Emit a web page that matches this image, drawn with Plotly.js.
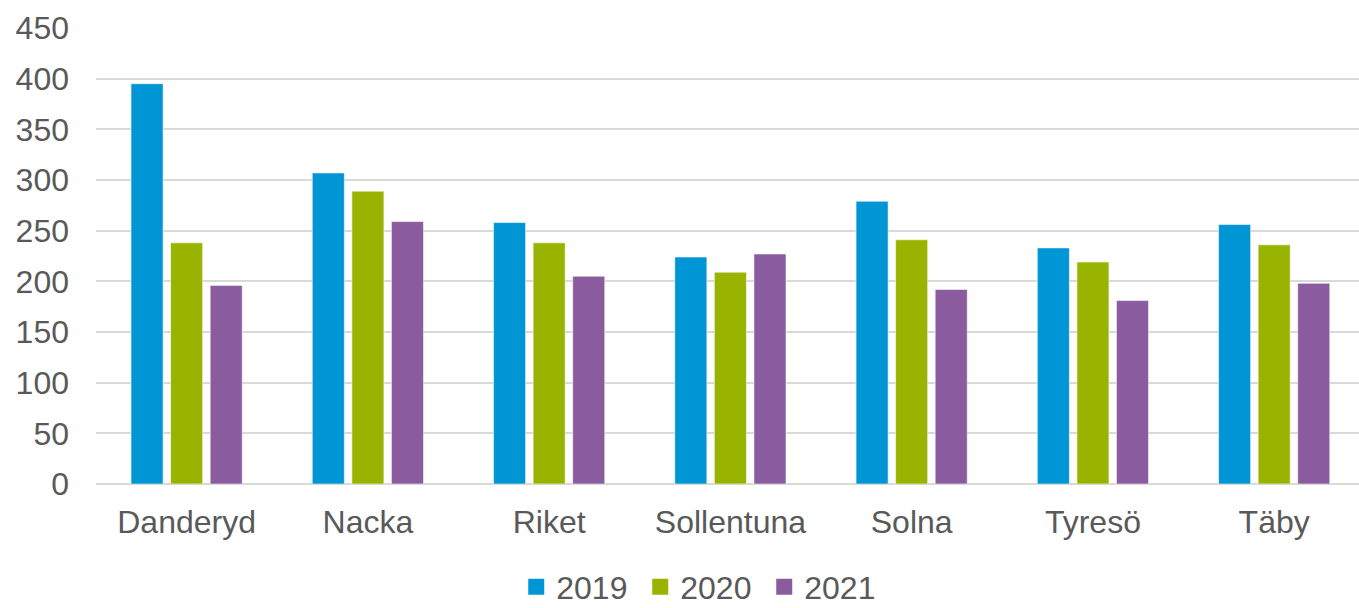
<!DOCTYPE html>
<html>
<head>
<meta charset="utf-8">
<script src="https://cdn.plot.ly/plotly-3.0.1.min.js"></script>
<style>
html, body { margin: 0; padding: 0; background: #ffffff; overflow: hidden; }
#chart { width: 1359px; height: 608px; }
</style>
</head>
<body>
<div id="chart"></div>
<script>
const categories = ["Danderyd", "Nacka", "Riket", "Sollentuna", "Solna", "Tyresö", "Täby"];
const seriesNames = ["2019", "2020", "2021"];
const values2019 = [395, 307, 258, 224, 279, 233, 256];
const values2020 = [238, 289, 238, 209, 241, 219, 236];
const values2021 = [196, 259, 205, 227, 192, 181, 198];
const yTickValues = [0, 50, 100, 150, 200, 250, 300, 350, 400, 450];

const colors = ["#0096D6", "#99B400", "#8B5BA0"];
const allValues = [values2019, values2020, values2021];

const textColor = "#595959";
const fontFamily = "'Liberation Sans', Arial, sans-serif";

const barTraces = allValues.map((vals, i) => ({
  type: "bar",
  name: seriesNames[i],
  x: categories,
  y: vals,
  showlegend: false,
  legendgroup: seriesNames[i],
  marker: { color: colors[i], line: { color: "rgba(255,255,255,0.55)", width: 1 } },
  hoverinfo: "x+y+name"
}));

// legend-only entries (square swatches like the original)
const legendTraces = seriesNames.map((name, i) => ({
  type: "scatter",
  mode: "markers",
  name: name,
  x: [null],
  y: [null],
  legendgroup: name,
  showlegend: true,
  hoverinfo: "skip",
  marker: { symbol: "square", size: 16, color: colors[i] }
}));

const layout = {
  width: 1359,
  height: 608,
  margin: { l: 96, r: 0, t: 28, b: 124, pad: 0, autoexpand: false },
  paper_bgcolor: "#ffffff",
  plot_bgcolor: "#ffffff",
  font: { family: fontFamily, color: textColor, size: 32 },
  barmode: "group",
  bargap: 0.345,
  bargroupgap: 0.19,
  showlegend: true,
  legend: {
    orientation: "h",
    x: 0.480,
    xanchor: "center",
    y: -0.226,
    yanchor: "middle",
    entrywidth: 79,
    entrywidthmode: "pixels",
    font: { family: fontFamily, size: 32, color: textColor },
    bgcolor: "rgba(0,0,0,0)",
    itemclick: false,
    itemdoubleclick: false
  },
  xaxis: {
    type: "category",
    range: [-0.5, 6.468],
    showgrid: false,
    showline: false,
    zeroline: false,
    ticks: "",
    tickfont: { family: fontFamily, size: 32, color: textColor },
    ticklabelstandoff: 16,
    fixedrange: true
  },
  yaxis: {
    range: [0, 450],
    tickvals: yTickValues,
    ticktext: yTickValues.map(String),
    showgrid: true,
    gridcolor: "#d9d9d9",
    gridwidth: 2,
    zeroline: true,
    zerolinecolor: "#d9d9d9",
    zerolinewidth: 2,
    showline: false,
    ticks: "",
    tickfont: { family: fontFamily, size: 32, color: textColor },
    ticklabelstandoff: 26,
    fixedrange: true
  }
};

Plotly.newPlot("chart", barTraces.concat(legendTraces), layout, { displayModeBar: false, responsive: false });
</script>
</body>
</html>
